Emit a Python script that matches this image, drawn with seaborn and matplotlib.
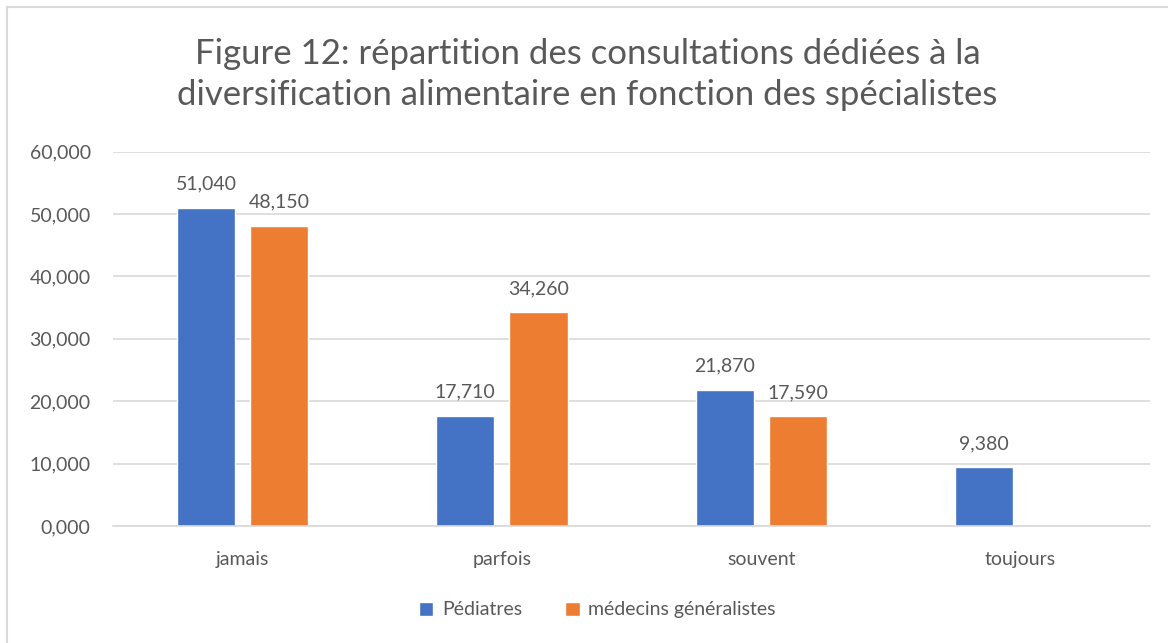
import pandas as pd
import matplotlib.pyplot as plt
from matplotlib.lines import Line2D
import seaborn as sns

# data (values in %, displayed with French decimal comma)
categories = ["jamais", "parfois", "souvent", "toujours"]
pediatres = [51.04, 17.71, 21.87, 9.38]
generalistes = [48.15, 34.26, 17.59, 0.0]
series_names = ["Pédiatres", "médecins généralistes"]
colors = ["#4472C4", "#ED7D31"]
title = "Figure 12: répartition des consultations dédiées à la\ndiversification alimentaire en fonction des spécialistes"

df = pd.DataFrame({
    "categorie": categories * 2,
    "valeur": pediatres + generalistes,
    "serie": [series_names[0]] * 4 + [series_names[1]] * 4,
})


def fr(v):
    return f"{v:.3f}".replace(".", ",")


sns.set_style("white")
plt.rcParams["font.family"] = ["Lato", "DejaVu Sans"]
txt = "#595959"

fig = plt.figure(figsize=(11.68, 6.43), dpi=100)
ax = fig.add_axes([0.0967, 0.182, 0.888, 0.582])

sns.barplot(data=df, x="categorie", y="valeur", hue="serie", palette=colors,
            saturation=1, width=0.564, gap=0.205, ax=ax, legend=True)

ax.set_xlim(-0.5, 3.5)
ax.set_ylim(0, 60)
ax.set_yticks(range(0, 61, 10))
ax.set_yticklabels([fr(v) for v in range(0, 61, 10)])
ax.yaxis.grid(True, color="#D9D9D9", linewidth=1.2)
ax.set_axisbelow(True)
for s in ["top", "right", "left"]:
    ax.spines[s].set_visible(False)
ax.spines["bottom"].set_color("#D9D9D9")
ax.spines["bottom"].set_linewidth(1.2)
ax.tick_params(axis="y", length=0, labelsize=14, colors=txt, pad=16)
ax.tick_params(axis="x", length=0, labelsize=14, colors=txt, pad=18)
ax.set_xlabel("")
ax.set_ylabel("")

# value labels (skip empty bar)
for cont in ax.containers:
    labels = [fr(b.get_height()) if b.get_height() > 0 else "" for b in cont]
    ax.bar_label(cont, labels=labels, padding=11, fontsize=14, color=txt)

ax.legend(loc="center", bbox_to_anchor=(0.467, -0.2245), ncol=2, frameon=False,
          fontsize=14, labelcolor=txt, handlelength=0.75, handleheight=0.75,
          columnspacing=2.2, handletextpad=0.45)

fig.text(0.503, 0.884, title, fontsize=25, color=txt, ha="center", va="center",
         linespacing=1.32)

# chart area border (top and left edges visible in the original crop)
fig.add_artist(Line2D([0.006, 1.0], [0.989, 0.989], color="#D9D9D9", lw=1.5,
                      transform=fig.transFigure))
fig.add_artist(Line2D([0.006, 0.006], [0.0, 0.989], color="#D9D9D9", lw=1.5,
                      transform=fig.transFigure))

fig.savefig("out.png", dpi=100)
